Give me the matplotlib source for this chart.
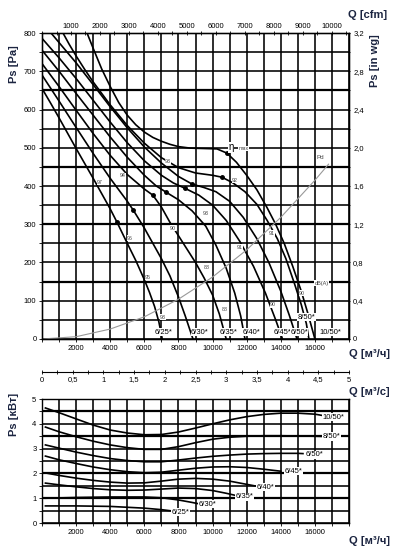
import numpy as np
import matplotlib
matplotlib.use("Agg")
import matplotlib.pyplot as plt
from matplotlib.ticker import MultipleLocator, FuncFormatter

plt.rcParams["font.family"] = ["Liberation Sans Narrow", "Liberation Sans", "DejaVu Sans"]

# ---- fan curves, static pressure [Pa] vs flow [m3/h]
q_625 = [0, 500, 1000, 1500, 2000, 2500, 3000, 3500, 4000, 4400, 5000, 5500, 6000, 6300, 6600, 6850, 7050]
ps_625 = [655, 617, 578, 538, 498, 459, 420, 380, 340, 305, 250, 205, 155, 122, 85, 45, 0]
q_630 = [0, 1000, 2000, 3000, 4000, 5000, 5350, 6000, 6500, 7000, 7500, 8000, 8400, 8700, 8850]
ps_630 = [690, 622, 553, 485, 420, 360, 337, 290, 250, 210, 165, 110, 60, 20, 0]
q_635 = [0, 1000, 2000, 3000, 4000, 5000, 6000, 6500, 7000, 7500, 8000, 8500, 9000, 9500, 10000, 10400, 10800]
ps_635 = [720, 660, 598, 537, 480, 430, 392, 376, 345, 305, 270, 235, 200, 160, 115, 65, 0]
q_640 = [0, 1000, 2000, 3000, 4000, 5000, 6000, 6700, 7270, 8000, 8800, 9600, 10200, 10800, 11300, 11650, 11900]
ps_640 = [755, 700, 642, 585, 528, 475, 428, 400, 384, 364, 335, 295, 245, 185, 120, 60, 0]
q_645 = [0, 1000, 2000, 3000, 4000, 5000, 6000, 7000, 7700, 8380, 9200, 10000, 10800, 11600, 12400, 13100, 13700, 14100]
ps_645 = [786, 735, 681, 624, 567, 513, 466, 428, 408, 394, 376, 350, 310, 255, 190, 120, 50, 0]
q_650 = [530, 1000, 2000, 3000, 4000, 5000, 6000, 7000, 8000, 8800, 9500, 10200, 11000, 11800, 12600, 13300, 14000, 14500, 14950]
ps_650 = [800, 775, 722, 665, 607, 552, 502, 460, 425, 405, 396, 385, 360, 318, 262, 200, 125, 62, 0]
q_850 = [1230, 1600, 2000, 2500, 3000, 4000, 5000, 6000, 7000, 8000, 9000, 10000, 10550, 11200, 11900,
         12600, 13200, 13800, 14300, 14800, 15200, 15500, 15650]
ps_850 = [800, 770, 740, 705, 672, 612, 558, 512, 474, 448, 434, 428, 423, 408, 385,
          352, 310, 262, 210, 145, 90, 40, 0]
q_1050 = [2640, 3000, 3500, 4000, 4500, 5000, 5500, 6000, 6500, 7000, 7500, 8000, 8700, 9500, 10260,
          10840, 11400, 12000, 12600, 13200, 13700, 14200, 14700, 15200, 15600, 16000]
ps_1050 = [800, 760, 706, 660, 618, 585, 560, 541, 527, 517, 509, 503, 499, 498, 497,
           486, 462, 428, 390, 343, 300, 250, 190, 125, 65, 0]

fan_names = ["6/25", "6/30", "6/35", "6/40", "6/45", "6/50", "8/50", "10/50"]
fan_q = [q_625, q_630, q_635, q_640, q_645, q_650, q_850, q_1050]
fan_ps = [ps_625, ps_630, ps_635, ps_640, ps_645, ps_650, ps_850, ps_1050]

# efficiency points (dots)
dot_q = [4400, 5350, 6500, 7270, 8380, 8800, 10550, 10840]
dot_ps = [305, 337, 376, 384, 394, 405, 423, 486]

# fan name labels under the curves
name_q = [7150, 9260, 10960, 12300, 14100, 15070, 15530, 16900]
name_ps = [18, 18, 18, 18, 18, 18, 57, 18]

# sound level labels dB(A)
db_text = ["97", "94", "93", "96", "95", "93", "90", "93", "92", "91", "91",
           "88", "88", "90", "90"]
db_q = [3400, 4750, 7380, 5160, 6210, 7090, 7680, 9610, 11300, 13480, 11600,
        9670, 10730, 15240, 13540]
db_ps = [410, 428, 463, 264, 162, 57, 290, 329, 415, 277, 240,
         188, 76, 120, 89]

# dynamic pressure
q_pd = [0, 2000, 4000, 6000, 8000, 10000, 12000, 14000, 16000, 16800]
ps_pd = [0, 6, 26, 58, 104, 162, 233, 318, 415, 457]

# ---- power curves [kW] vs flow [m3/h]
pq_1050 = [200, 1000, 2000, 3000, 4000, 5000, 6000, 7000, 8000, 9000, 10000, 11000, 12000,
           13000, 14000, 15000, 16000, 16600]
pw_1050 = [4.64, 4.45, 4.2, 3.95, 3.75, 3.63, 3.56, 3.57, 3.67, 3.83, 4.0, 4.16, 4.29,
           4.38, 4.43, 4.43, 4.39, 4.32]
pq_850 = [200, 1000, 2000, 3000, 4000, 5000, 6000, 7000, 8000, 9000, 10000, 11000, 12000,
          13000, 14000, 15000, 16000, 16600]
pw_850 = [3.87, 3.68, 3.48, 3.3, 3.15, 3.04, 2.97, 2.97, 3.08, 3.24, 3.38, 3.46, 3.5,
          3.52, 3.52, 3.51, 3.5, 3.49]
pq_650 = [200, 1000, 2000, 3000, 4000, 5000, 6000, 7000, 8000, 9000, 10000, 11000, 12000,
          13000, 14000, 15000, 15300]
pw_650 = [3.15, 3.02, 2.86, 2.72, 2.6, 2.52, 2.47, 2.47, 2.54, 2.62, 2.69, 2.74, 2.78,
          2.8, 2.81, 2.81, 2.8]
pq_645 = [200, 1000, 2000, 3000, 4000, 5000, 6000, 7000, 8000, 9000, 10000, 11000, 12000,
          13000, 14000]
pw_645 = [2.7, 2.55, 2.4, 2.26, 2.15, 2.07, 2.03, 2.05, 2.13, 2.21, 2.26, 2.27, 2.24,
          2.17, 2.09]
pq_640 = [200, 1000, 2000, 3000, 4000, 5000, 6000, 7000, 8000, 9000, 10000, 11000, 12000, 12700]
pw_640 = [2.02, 1.92, 1.81, 1.72, 1.65, 1.61, 1.62, 1.69, 1.77, 1.8, 1.77, 1.69, 1.56, 1.47]
pq_635 = [200, 1000, 2000, 3000, 4000, 5000, 6000, 7000, 8000, 9000, 10000, 10800, 11500]
pw_635 = [1.61, 1.54, 1.46, 1.39, 1.34, 1.32, 1.33, 1.37, 1.41, 1.39, 1.31, 1.2, 1.09]
pq_630 = [200, 2000, 4000, 6000, 7000, 8000, 8800, 9300]
pw_630 = [1.0, 1.03, 1.05, 1.05, 1.02, 0.93, 0.83, 0.76]
pq_625 = [200, 2000, 4000, 6000, 7000, 7700]
pw_625 = [0.69, 0.69, 0.67, 0.6, 0.54, 0.48]

pow_q = [pq_625, pq_630, pq_635, pq_640, pq_645, pq_650, pq_850, pq_1050]
pow_w = [pw_625, pw_630, pw_635, pw_640, pw_645, pw_650, pw_850, pw_1050]
pow_lab_q = [8100, 9700, 11850, 13100, 14750, 15950, 16950, 17100]
pow_lab_w = [0.43, 0.75, 1.05, 1.45, 2.08, 2.76, 3.49, 4.27]

# heavier grid rows in the printed chart
heavy_ps = [650, 450, 300, 150]
heavy_kw = [4.5, 3.5, 2.0, 1.0]

NAVY = "#1b2440"
comma = FuncFormatter(lambda v, p: ("%g" % v).replace(".", ","))
comma1 = FuncFormatter(lambda v, p: "0" if abs(v) < 1e-9 else ("%.1f" % v).replace(".", ","))


def grid_style(ax, heavy):
    ax.grid(True, which="both", color="black", linewidth=1.15)
    for h in heavy:
        ax.axhline(h, color="black", linewidth=1.6, zorder=0.5)
    ax.set_axisbelow(True)
    for s in ax.spines.values():
        s.set_linewidth(1.0)


fig = plt.figure(figsize=(3.99, 5.53), dpi=100)

# main pressure chart
ax = fig.add_axes([0.1053, 0.3870, 0.7694, 0.5533])
ax.set_xlim(0, 18000)
ax.set_ylim(0, 800)
ax.xaxis.set_major_locator(MultipleLocator(2000))
ax.xaxis.set_minor_locator(MultipleLocator(1000))
ax.yaxis.set_major_locator(MultipleLocator(100))
ax.yaxis.set_minor_locator(MultipleLocator(50))
grid_style(ax, heavy_ps)
ax.tick_params(which="both", labelsize=5.5, length=2, width=0.6, direction="out", pad=2)
ax.set_xticks([2000, 4000, 6000, 8000, 10000, 12000, 14000, 16000])
for q, p in zip(fan_q, fan_ps):
    ax.plot(q, p, color="black", linewidth=1.2, solid_joinstyle="round")
ax.plot(q_pd, ps_pd, color="#999999", linewidth=0.8)
ax.plot(dot_q, dot_ps, "o", color="black", markersize=2.5)
for n, q, p in zip(fan_names, name_q, name_ps):
    ax.text(q, p, n + "*", fontsize=5.5, ha="center", va="center",
            bbox=dict(facecolor="white", edgecolor="none", pad=0.4))
for t, q, p in zip(db_text, db_q, db_ps):
    ax.text(q, p, t, fontsize=3.8, color="#444444", ha="center", va="center",
            bbox=dict(facecolor="white", edgecolor="none", pad=0.2))
ax.text(16300, 475, "Pd", fontsize=4.5, color="#444444", ha="center", va="center",
        bbox=dict(facecolor="white", edgecolor="none", pad=0.2))
ax.text(16400, 146, "dB(A)", fontsize=4, color="#444444", ha="center", va="center",
        bbox=dict(facecolor="white", edgecolor="none", pad=0.2))
ax.text(11100, 501, "η", fontsize=7, ha="center", va="center",
        bbox=dict(facecolor="white", edgecolor="none", pad=0.2))
ax.text(11500, 498, "max", fontsize=3.8, color="#444444", ha="left", va="center",
        bbox=dict(facecolor="white", edgecolor="none", pad=0.2))

# right axis in wg
axr = ax.twinx()
axr.set_ylim(0, 3.2)
axr.yaxis.set_major_locator(MultipleLocator(0.4))
axr.yaxis.set_minor_locator(MultipleLocator(0.2))
axr.yaxis.set_major_formatter(comma1)
axr.tick_params(which="both", labelsize=5.5, length=2, width=0.6, direction="inout", pad=2)

# top axis cfm
axt = ax.twiny()
axt.set_xlim(0, 18000 / 1.699)
axt.xaxis.set_major_locator(MultipleLocator(1000))
axt.xaxis.set_minor_locator(MultipleLocator(500))
axt.set_xticks(range(1000, 10001, 1000))
axt.tick_params(which="both", labelsize=5.5, length=2.5, width=0.6, direction="inout", pad=1)

# m3/s axis
axs = fig.add_axes([0.1053, 0.3273, 0.7694, 0.0001])
axs.set_xlim(0, 5)
axs.set_yticks([])
for s in ["left", "right", "top"]:
    axs.spines[s].set_visible(False)
axs.spines["bottom"].set_linewidth(0.8)
axs.xaxis.set_major_locator(MultipleLocator(0.5))
axs.xaxis.set_minor_locator(MultipleLocator(0.25))
axs.xaxis.set_major_formatter(comma)
axs.tick_params(which="both", labelsize=5.5, length=2.5, width=0.6, direction="inout", pad=2)

# power chart
axp = fig.add_axes([0.1053, 0.0542, 0.7694, 0.2242])
axp.set_xlim(0, 18000)
axp.set_ylim(0, 5)
axp.xaxis.set_major_locator(MultipleLocator(2000))
axp.xaxis.set_minor_locator(MultipleLocator(1000))
axp.yaxis.set_major_locator(MultipleLocator(1))
axp.yaxis.set_minor_locator(MultipleLocator(0.5))
grid_style(axp, heavy_kw)
axp.set_xticks([2000, 4000, 6000, 8000, 10000, 12000, 14000, 16000])
axp.tick_params(which="both", labelsize=5.5, length=2, width=0.6, direction="out", pad=2)
for q, w in zip(pow_q, pow_w):
    axp.plot(q, w, color="black", linewidth=1.2, solid_joinstyle="round")
for n, q, w in zip(fan_names, pow_lab_q, pow_lab_w):
    axp.text(q, w, n + "*", fontsize=5.5, ha="center", va="center",
             bbox=dict(facecolor="white", edgecolor="none", pad=0.4))

# axis titles
lab = dict(fontsize=8, fontweight="bold", color=NAVY, family=["Liberation Sans", "DejaVu Sans"])
fig.text(0.922, 0.973, "Q [cfm]", ha="center", va="center", **lab)
fig.text(0.940, 0.891, "Ps [in wg]", ha="center", va="center", rotation=90, **lab)
fig.text(0.035, 0.884, "Ps [Pa]", ha="center", va="center", rotation=90, **lab)
fig.text(0.925, 0.360, "Q [м³/ч]", ha="center", va="center", **lab)
fig.text(0.925, 0.291, "Q [м³/с]", ha="center", va="center", **lab)
fig.text(0.035, 0.250, "Ps [кВт]", ha="center", va="center", rotation=90, **lab)
fig.text(0.925, 0.022, "Q [м³/ч]", ha="center", va="center", **lab)

fig.savefig("out.png", dpi=100)
